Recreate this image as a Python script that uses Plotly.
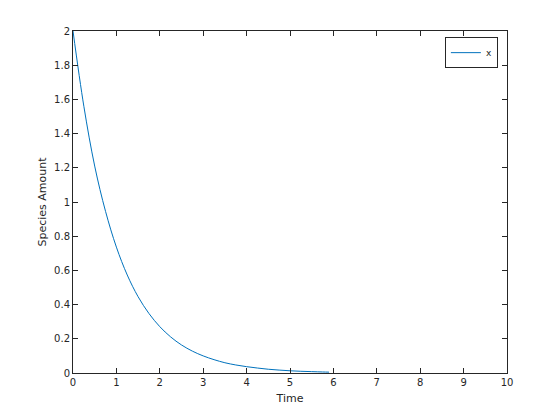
import plotly.graph_objects as go

time = [0, 0.25, 0.5, 0.75, 1.0, 1.25, 1.5, 1.75, 2.0, 2.25, 2.5, 2.75, 3.0,
        3.25, 3.5, 3.75, 4.0, 4.25, 4.5, 4.75, 5.0, 5.25, 5.5, 5.75, 5.9]
x_amount = [2.0, 1.56, 1.21, 0.945, 0.736, 0.573, 0.446, 0.348, 0.271, 0.211,
            0.164, 0.128, 0.100, 0.078, 0.060, 0.047, 0.037, 0.029, 0.022,
            0.017, 0.013, 0.010, 0.008, 0.006, 0.005]

x_ticks = list(range(0, 11))
y_ticks = [0, 0.2, 0.4, 0.6, 0.8, 1, 1.2, 1.4, 1.6, 1.8, 2]
y_labels = ["0", "0.2", "0.4", "0.6", "0.8", "1", "1.2", "1.4", "1.6", "1.8", "2"]

fig = go.Figure()
fig.add_trace(go.Scatter(x=time, y=x_amount, mode="lines", name="x",
                         line=dict(color="#0072BD", width=1, shape="spline")))

tick_font = dict(family="DejaVu Sans", size=10, color="#262626")
title_font = dict(family="DejaVu Sans", size=11, color="#262626")
axis_common = dict(showgrid=False, zeroline=False, showline=True, linecolor="#262626",
                   linewidth=1, mirror="ticks", ticks="inside", ticklen=5,
                   tickcolor="#262626", tickfont=tick_font)

fig.update_layout(
    width=560, height=420,
    margin=dict(l=65, r=61, t=23, b=55),
    paper_bgcolor="white", plot_bgcolor="white",
    font=tick_font,
    xaxis=dict(range=[0, 10], tickvals=x_ticks, title=dict(text="Time", font=title_font, standoff=7),
               **axis_common),
    yaxis=dict(range=[0, 2], tickvals=y_ticks, ticktext=y_labels,
               title=dict(text="Species Amount", font=title_font, standoff=5), **axis_common),
    showlegend=True,
    legend=dict(x=0.979, y=0.982, xanchor="right", yanchor="top", bordercolor="#262626",
                borderwidth=1, bgcolor="white", font=dict(family="DejaVu Sans", size=9, color="#262626"),
                itemwidth=30, tracegroupgap=0),
)

fig.write_html("out.html")
